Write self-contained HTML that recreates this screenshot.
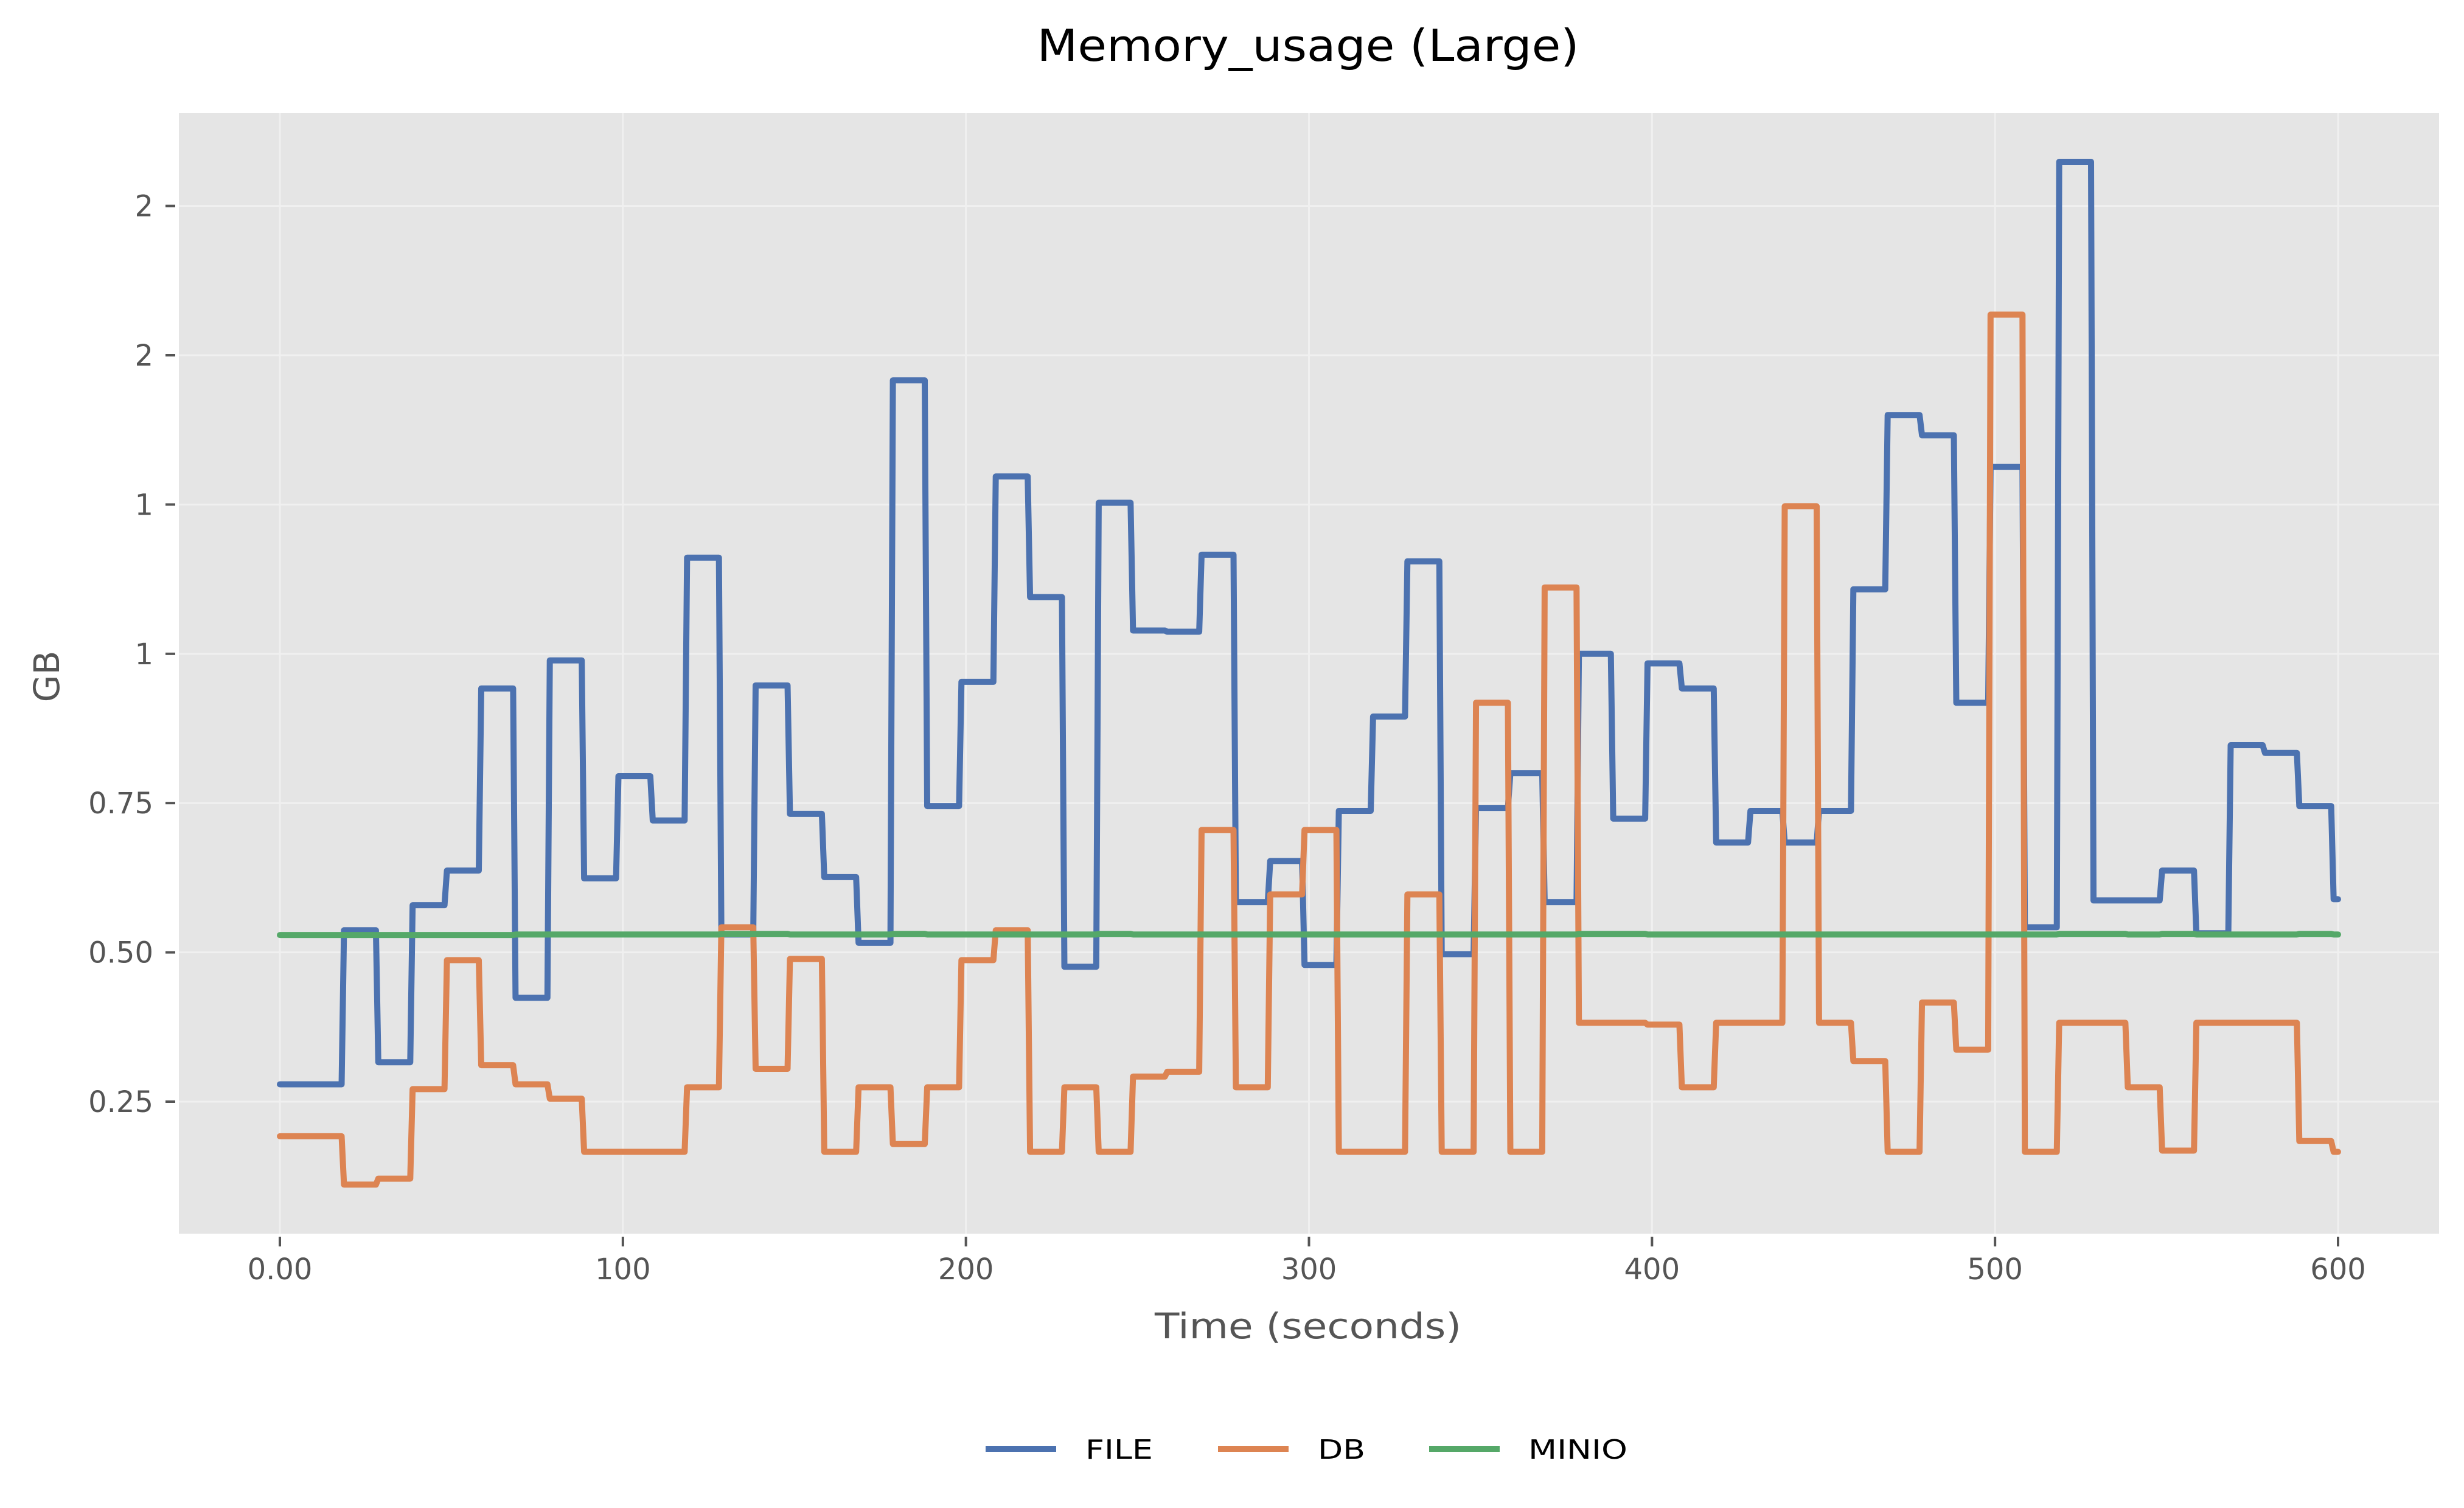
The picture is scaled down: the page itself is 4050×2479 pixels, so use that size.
<!DOCTYPE html>
<html><head><meta charset="utf-8"><style>
html,body{margin:0;padding:0;background:#fff;}
svg text{font-family:"DejaVu Sans","Liberation Sans",sans-serif;}
</style></head><body>
<svg id="chart" width="4050" height="2474" viewBox="0 0 4050 2474" xmlns="http://www.w3.org/2000/svg">
<rect width="4050" height="2474" fill="#ffffff"/>
<rect x="294" y="186" width="3715" height="1842" fill="#e5e5e5"/>
<g id="grid"></g>
<g id="axes"></g>
<g id="series"></g>
<text x="2150" y="100" font-size="72" text-anchor="middle" fill="#000" textLength="891" lengthAdjust="spacingAndGlyphs">Memory_usage (Large)</text>
<text x="2150" y="2200" font-size="58" text-anchor="middle" fill="#555" textLength="504" lengthAdjust="spacingAndGlyphs">Time (seconds)</text>
<text x="97" y="1112" font-size="58" text-anchor="middle" fill="#555" transform="rotate(-90 97 1112)">GB</text>
<g id="legend"></g>
</svg>
<script>
const segStarts=[0,18,28,38,48,58,68,78,88,98,108,118,128,138,148,158,168,178,188,198,208,218,228,238,248,258,268,278,288,298,308,318,328,338,348,358,368,378,388,398,408,418,428,438,448,458,468,478,488,498,508,518,528,538,548,558,568,578,588,598];
const fileVals=[0.279,0.537,0.316,0.579,0.637,0.942,0.424,0.989,0.624,0.795,0.721,1.161,0.53,0.947,0.732,0.626,0.516,1.458,0.745,0.953,1.297,1.095,0.476,1.253,1.039,1.037,1.166,0.584,0.653,0.479,0.737,0.895,1.155,0.497,0.742,0.8,0.584,1.0,0.724,0.984,0.942,0.684,0.737,0.684,0.737,1.108,1.4,1.366,0.918,1.313,0.542,1.824,0.587,0.587,0.637,0.532,0.847,0.834,0.745,0.589];
const dbVals=[0.192,0.111,0.121,0.271,0.487,0.311,0.279,0.255,0.166,0.166,0.166,0.274,0.542,0.305,0.489,0.166,0.274,0.179,0.274,0.487,0.537,0.166,0.274,0.166,0.292,0.3,0.705,0.274,0.597,0.705,0.166,0.166,0.597,0.166,0.918,0.166,1.111,0.382,0.382,0.379,0.274,0.382,0.382,1.247,0.382,0.318,0.166,0.416,0.337,1.568,0.166,0.382,0.382,0.274,0.168,0.382,0.382,0.382,0.184,0.166];
const minioVals=[0.529,0.529,0.529,0.529,0.529,0.529,0.53,0.53,0.53,0.53,0.53,0.53,0.531,0.531,0.53,0.53,0.53,0.531,0.53,0.53,0.53,0.53,0.53,0.531,0.53,0.53,0.53,0.53,0.53,0.53,0.53,0.53,0.53,0.53,0.53,0.53,0.53,0.531,0.531,0.53,0.53,0.53,0.53,0.53,0.53,0.53,0.53,0.53,0.53,0.53,0.53,0.531,0.531,0.53,0.531,0.53,0.53,0.53,0.531,0.53];
const xTicks=[0,100,200,300,400,500,600];
const xTickLabels=["0.00","100","200","300","400","500","600"];
const yTicks=[0.25,0.5,0.75,1.0,1.25,1.5,1.75];
const yTickLabels=["0.25","0.50","0.75","1","1","2","2"];
const NS="http://www.w3.org/2000/svg";
const X=t=>460+(t/600)*3383;
const Y=v=>1811-(v-0.25)*981.6;
function mk(tag,attrs,parent){const e=document.createElementNS(NS,tag);for(const k in attrs)e.setAttribute(k,attrs[k]);parent.appendChild(e);return e;}
const grid=document.getElementById('grid'),axes=document.getElementById('axes'),series=document.getElementById('series'),legend=document.getElementById('legend');
xTicks.forEach((t,i)=>{
 const g=mk('line',{x1:X(t),x2:X(t),y1:186,y2:2028,stroke:'#f0f0f0','stroke-width':3},grid);
 
 
 const tk=mk('line',{x1:X(t),x2:X(t),y1:2033,y2:2049,stroke:'#555','stroke-width':4},axes);
 
 
 const tx=mk('text',{x:X(t),y:2103,'font-size':48,'text-anchor':'middle',fill:'#555'},axes);
 tx.textContent=xTickLabels[i];
 
 
});
yTicks.forEach((v,i)=>{
 const g=mk('line',{x1:294,x2:4009,y1:Y(v),y2:Y(v),stroke:'#f0f0f0','stroke-width':3},grid);
 
 
 const tk=mk('line',{x1:272,x2:288,y1:Y(v),y2:Y(v),stroke:'#555','stroke-width':4},axes);
 
 
 const tx=mk('text',{x:252,y:Y(v)+17,'font-size':48,'text-anchor':'end',fill:'#555'},axes);
 tx.textContent=yTickLabels[i];
 
 
});
function pathFor(vals){
 let d='';
 for(let i=0;i<segStarts.length;i++){
  const s=i===0?0:segStarts[i]+0.7;
  const e=i+1<segStarts.length?segStarts[i+1]:600;
  d+=(i===0?'M':'L')+X(s).toFixed(1)+','+Y(vals[i]).toFixed(1)+'L'+X(e).toFixed(1)+','+Y(vals[i]).toFixed(1);
 }
 return d;
}
const defs=[['FILE',fileVals,'#4c72b0','file'],['DB',dbVals,'#dd8452','db'],['MINIO',minioVals,'#55a868','minio']];
defs.forEach(([n,vals,c,k])=>{
 const p=mk('path',{d:pathFor(vals),fill:'none',stroke:c,'stroke-width':10,'stroke-linejoin':'round','stroke-linecap':'round'},series);
 
 
});
const lx=[[1620,1784,111],[2002,2166,78],[2349,2512,163]];
defs.forEach(([n,vals,c,k],i)=>{
 const l=mk('line',{x1:lx[i][0],x2:lx[i][0]+116,y1:2382,y2:2382,stroke:c,'stroke-width':10},legend);
 
 
 const t=mk('text',{x:lx[i][1],y:2398,'font-size':44,fill:'#000',textLength:lx[i][2],lengthAdjust:'spacingAndGlyphs'},legend);
 t.textContent=n;
 
 
});
</script>
</body></html>
